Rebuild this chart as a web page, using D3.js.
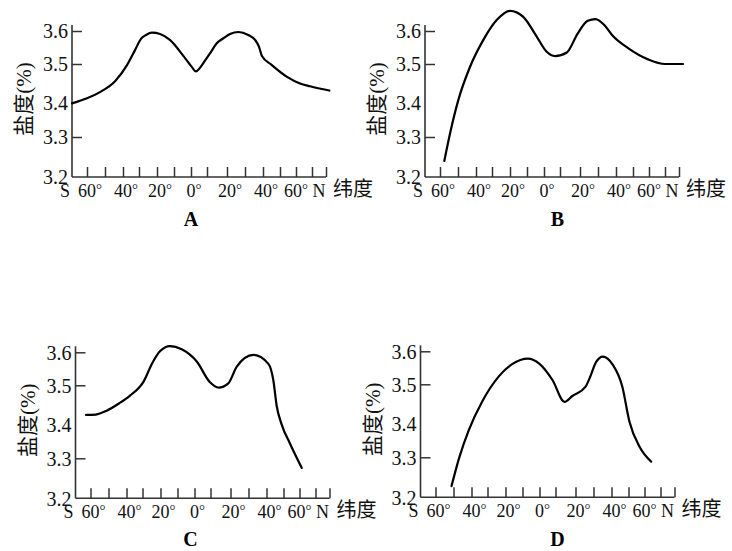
<!DOCTYPE html>
<html><head><meta charset="utf-8">
<script src="https://cdn.jsdelivr.net/npm/d3@7"></script>
<style>body{margin:0;background:#fff}svg{display:block}</style>
</head><body>
<svg id="c" width="732" height="551"></svg>
<script>
// ---- data ----
const latTicks = [-60,-50,-40,-30,-20,-10,0,10,20,30,40,50,60,70,80];
const latLabelValues = [-60,-40,-20,0,20,40,60];
const latLabelTexts = ["60","40","20","0","20","40","60"];
const salTicks = [3.2,3.3,3.4,3.5,3.6];
const salTickMarks = [3.3,3.5,3.6];
const salLabels = ["3.2","3.3","3.4","3.5","3.6"];
const yTitle = "盐度(%)";
const xTitle = "纬度";

const latA = [-68.3,-60,-52.8,-44.4,-37.5,-32.5,-28.9,-26.1,-22.8,-18.2,-12.4,-4.4,0.6,3.1,5.6,7.7,11.5,14.9,18.2,21.7,26.3,31.8,35.6,37.8,39.4,44.7,54.4,62.5,68.8,82.4];
const salA = [3.399,3.412,3.428,3.456,3.497,3.542,3.576,3.588,3.595,3.591,3.573,3.524,3.492,3.481,3.490,3.503,3.532,3.563,3.578,3.591,3.597,3.588,3.573,3.552,3.524,3.499,3.467,3.45,3.443,3.432];

const latB = [-57.6,-54.4,-49.8,-43.3,-35.4,-27.4,-20,-12.2,-4.3,1.7,6.9,13.4,18.9,24.3,28.6,33.5,37.8,47.1,59.4,70,82.9];
const salB = [3.24,3.311,3.408,3.493,3.573,3.633,3.661,3.643,3.583,3.537,3.524,3.535,3.593,3.631,3.636,3.618,3.588,3.548,3.514,3.5,3.5];

const latC = [-62.5,-57,-51,-44,-38,-29.4,-24.6,-20.3,-14.5,-7.5,1.4,9.7,14,18.9,23.4,32.7,41.1,44,46,48.9,54.1,61.4];
const salC = [3.424,3.425,3.435,3.454,3.473,3.511,3.567,3.603,3.619,3.609,3.572,3.509,3.494,3.506,3.556,3.592,3.565,3.516,3.447,3.40,3.343,3.276];

const latD = [-51.1,-46.9,-41.5,-33.3,-23.7,-16.1,-6.8,0,8.1,14.5,18.4,25.6,27.8,31.5,35.2,40.8,46.3,50.6,56.9,64.2];
const salD = [3.228,3.298,3.380,3.456,3.524,3.561,3.578,3.562,3.513,3.455,3.470,3.494,3.518,3.568,3.584,3.559,3.495,3.404,3.331,3.289];

// ---- layout ----
const panels = [
  {name:"A", lat:latA, sal:salA, ox:72,    oy:177,   lx:191,   ly:226},
  {name:"B", lat:latB, sal:salB, ox:425,   oy:177,   lx:557.5, ly:226},
  {name:"C", lat:latC, sal:salC, ox:75.5,  oy:498.3, lx:190.5, ly:546},
  {name:"D", lat:latD, sal:salD, ox:420.5, oy:497.3, lx:557.5, ly:546}
];
const xRange = [15,33,51,67,85,102,119,135,155,173,191,208,224,240,254];
const yRange = [0,-40,-74,-113,-146];
const axisLen = 254, axisH = 152;
const serif = "'Liberation Serif','Times New Roman','Noto Sans CJK SC',serif";
const cjk = "'Noto Sans CJK SC','Liberation Serif',serif";
const axisColor = "#333";

const svg = d3.select("#c");

panels.forEach(p => {
  const g = svg.append("g").attr("transform", `translate(${p.ox},${p.oy})`);
  const x = d3.scaleLinear().domain(latTicks).range(xRange);
  const y = d3.scaleLinear().domain(salTicks).range(yRange);

  g.append("line").attr("x1",0).attr("y1",0).attr("x2",axisLen).attr("y2",0)
    .attr("stroke",axisColor).attr("stroke-width",1.6);
  g.append("line").attr("x1",0).attr("y1",0).attr("x2",0).attr("y2",-axisH)
    .attr("stroke",axisColor).attr("stroke-width",1.6);

  const xa = g.append("g").call(d3.axisBottom(x).tickValues(latTicks).tickSizeInner(-10).tickSizeOuter(0).tickFormat(""));
  xa.select(".domain").remove();
  xa.selectAll(".tick line").attr("stroke",axisColor).attr("stroke-width",1.5);

  const ya = g.append("g").call(d3.axisLeft(y).tickValues(salTicks).tickSizeInner(-10).tickSizeOuter(0).tickPadding(4)
      .tickFormat((d,i)=>salLabels[i]));
  ya.select(".domain").remove();
  ya.selectAll(".tick line").attr("stroke",axisColor).attr("stroke-width",1.5)
    .filter(d => !salTickMarks.includes(d)).remove();
  ya.selectAll(".tick text").attr("font-family",serif).attr("font-size",20).attr("fill","#111")
    .attr("dy","0.34em");

  latLabelValues.forEach((v,i) => {
    const dx = v === 60 ? 0 : 3;
    const t = g.append("text").attr("x", x(v)+dx).attr("y",20).attr("text-anchor","middle")
      .attr("font-family",serif).attr("font-size",18).attr("fill","#111");
    t.append("tspan").text(latLabelTexts[i]);
    t.append("tspan").attr("font-size",15).attr("dy",-3).text("°");
  });
  g.append("text").attr("x",-7).attr("y",20).attr("text-anchor","middle")
    .attr("font-family",serif).attr("font-size",18).attr("fill","#111").text("S");
  g.append("text").attr("x",247).attr("y",20).attr("text-anchor","middle")
    .attr("font-family",serif).attr("font-size",18).attr("fill","#111").text("N");
  g.append("text").attr("x",261).attr("y",19).attr("text-anchor","start")
    .attr("font-family",cjk).attr("font-size",20).attr("fill","#111").text(xTitle);

  g.append("text").attr("transform","translate(-48,-78) rotate(-90)").attr("text-anchor","middle")
    .attr("dy","0.35em").attr("font-family",serif).attr("font-size",21).attr("fill","#111").text(yTitle);

  const line = d3.line().x(d=>x(d[0])).y(d=>y(d[1])).curve(d3.curveMonotoneX);
  g.append("path").datum(p.lat.map((v,i)=>[v,p.sal[i]])).attr("d",line)
    .attr("fill","none").attr("stroke","#000").attr("stroke-width",2.2)
    .attr("stroke-linejoin","round").attr("stroke-linecap","round");

  svg.append("text").attr("x",p.lx).attr("y",p.ly).attr("text-anchor","middle")
    .attr("font-family",serif).attr("font-weight","bold").attr("font-size",20).attr("fill","#000").text(p.name);
});
</script>
</body></html>
